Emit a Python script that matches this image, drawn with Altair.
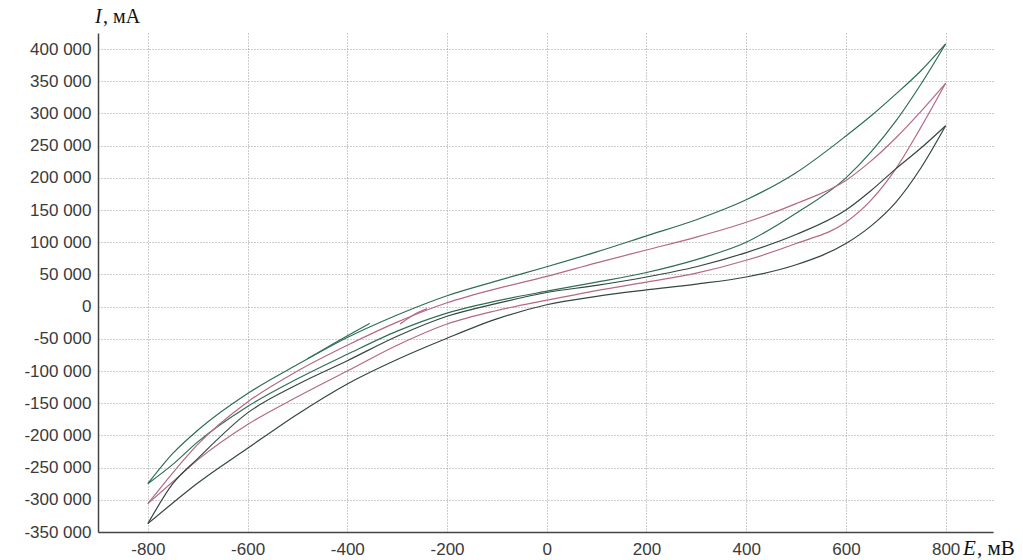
import altair as alt
import pandas as pd

# Potential E, mV (sample points read along each branch)
E = [-800, -750, -700, -600, -500, -400, -300, -200, -100, 0, 100, 200, 300, 400, 500, 600, 650, 700, 750, 800]

# Current I, thousands of mA
green_upper = [-275, -228, -192, -135, -90, -48, -13, 17, 40, 62, 85, 110, 135, 166, 208, 265, 296, 330, 366, 408]
green_lower = [-275, -245, -210, -155, -112, -74, -38, -10, 9, 24, 38, 53, 73, 100, 145, 200, 240, 288, 345, 408]
pink_upper = [-306, -258, -214, -148, -100, -60, -24, 6, 28, 47, 68, 88, 108, 131, 160, 196, 226, 262, 303, 347]
pink_lower = [-306, -272, -238, -183, -140, -100, -60, -27, -6, 10, 25, 38, 52, 72, 98, 131, 165, 214, 278, 347]
dark_upper = [-337, -275, -236, -165, -121, -84, -46, -15, 5, 22, 33, 46, 62, 84, 112, 150, 180, 214, 246, 281]
dark_lower = [-337, -305, -274, -220, -167, -120, -82, -49, -19, 3, 16, 26, 35, 46, 65, 98, 125, 162, 215, 281]

# short start-of-scan fragments
green_start_E = [-480, -420, -355]
green_start_I = [-81, -54, -26]
pink_start_E = [-294, -270, -240]
pink_start_I = [-27, -14, -3]

x_ticks = [-800, -600, -400, -200, 0, 200, 400, 600, 800]
y_ticks = list(range(-350000, 400001, 50000))

rows = []
def add(loop, name, es, vals):
    for e, v in zip(es, vals):
        rows.append({"E": e, "I": v * 1000, "loop": loop, "branch": name})

add("green", "g_up", E, green_upper)
add("green", "g_lo", E, green_lower)
add("pink", "p_up", E, pink_upper)
add("pink", "p_lo", E, pink_lower)
add("dark", "d_up", E, dark_upper)
add("dark", "d_lo", E, dark_lower)
add("green", "g_st", green_start_E, green_start_I)
add("pink", "p_st", pink_start_E, pink_start_I)
df = pd.DataFrame(rows)

W, H = 895, 499
PAD_L, PAD_T = 98, 33

xscale = alt.Scale(domain=[-900, 895], nice=False, zero=False)
yscale = alt.Scale(domain=[-350000, 425000], nice=False, zero=False)

lines = alt.Chart(df).mark_line(strokeWidth=1.2, interpolate="monotone").encode(
    x=alt.X("E:Q", scale=xscale, axis=alt.Axis(
        values=x_ticks, title=None, ticks=False, labelPadding=9,
        labelFont="Liberation Sans", labelFontSize=17, labelColor="#3a3a3a",
        domainColor="#444", domainWidth=1.5,
        grid=True, gridColor="#9a9a9a", gridDash=[1, 2], gridWidth=1,
        labelExpr="replace(format(datum.value, 'd'), '−', '-')",
    )),
    y=alt.Y("I:Q", scale=yscale, axis=alt.Axis(
        values=y_ticks, title=None, ticks=False, labelPadding=7,
        labelFont="Liberation Sans", labelFontSize=17, labelColor="#3a3a3a",
        domainColor="#444", domainWidth=1.5,
        grid=True, gridColor="#9a9a9a", gridDash=[1, 2], gridWidth=1,
        labelExpr="replace(replace(format(datum.value, ','), regexp(',', 'g'), ' '), '−', '-')",
    )),
    color=alt.Color("loop:N", scale=alt.Scale(domain=["green", "pink", "dark"],
                                               range=["#2e6e55", "#b4688a", "#34463f"]),
                    legend=None),
    detail="branch:N",
)

def label(txt, x, y, italic=False, size=20):
    return alt.Chart(pd.DataFrame({"t": [txt]})).mark_text(
        font="Liberation Serif", fontSize=size, fontStyle="italic" if italic else "normal",
        align="left", baseline="alphabetic", color="#111",
    ).encode(text="t:N", x=alt.value(x), y=alt.value(y))

y_title_i = label("I", 95 - PAD_L, 23 - PAD_T, italic=True)
y_title_u = label(", мА", 103 - PAD_L, 23 - PAD_T)
x_title_e = label("E", 963 - PAD_L, 555 - PAD_T, italic=True, size=21)
x_title_u = label(", мВ", 977 - PAD_L, 555 - PAD_T, size=21)

chart = alt.layer(lines, y_title_i, y_title_u, x_title_e, x_title_u).properties(
    width=W, height=H,
    autosize=alt.AutoSizeParams(type="none"),
    padding={"left": PAD_L, "top": PAD_T, "right": 1023 - PAD_L - W, "bottom": 560 - PAD_T - H},
    background="white",
).configure_view(stroke=None)

chart.save("out.html", embed_options={"renderer": "svg", "actions": False})
